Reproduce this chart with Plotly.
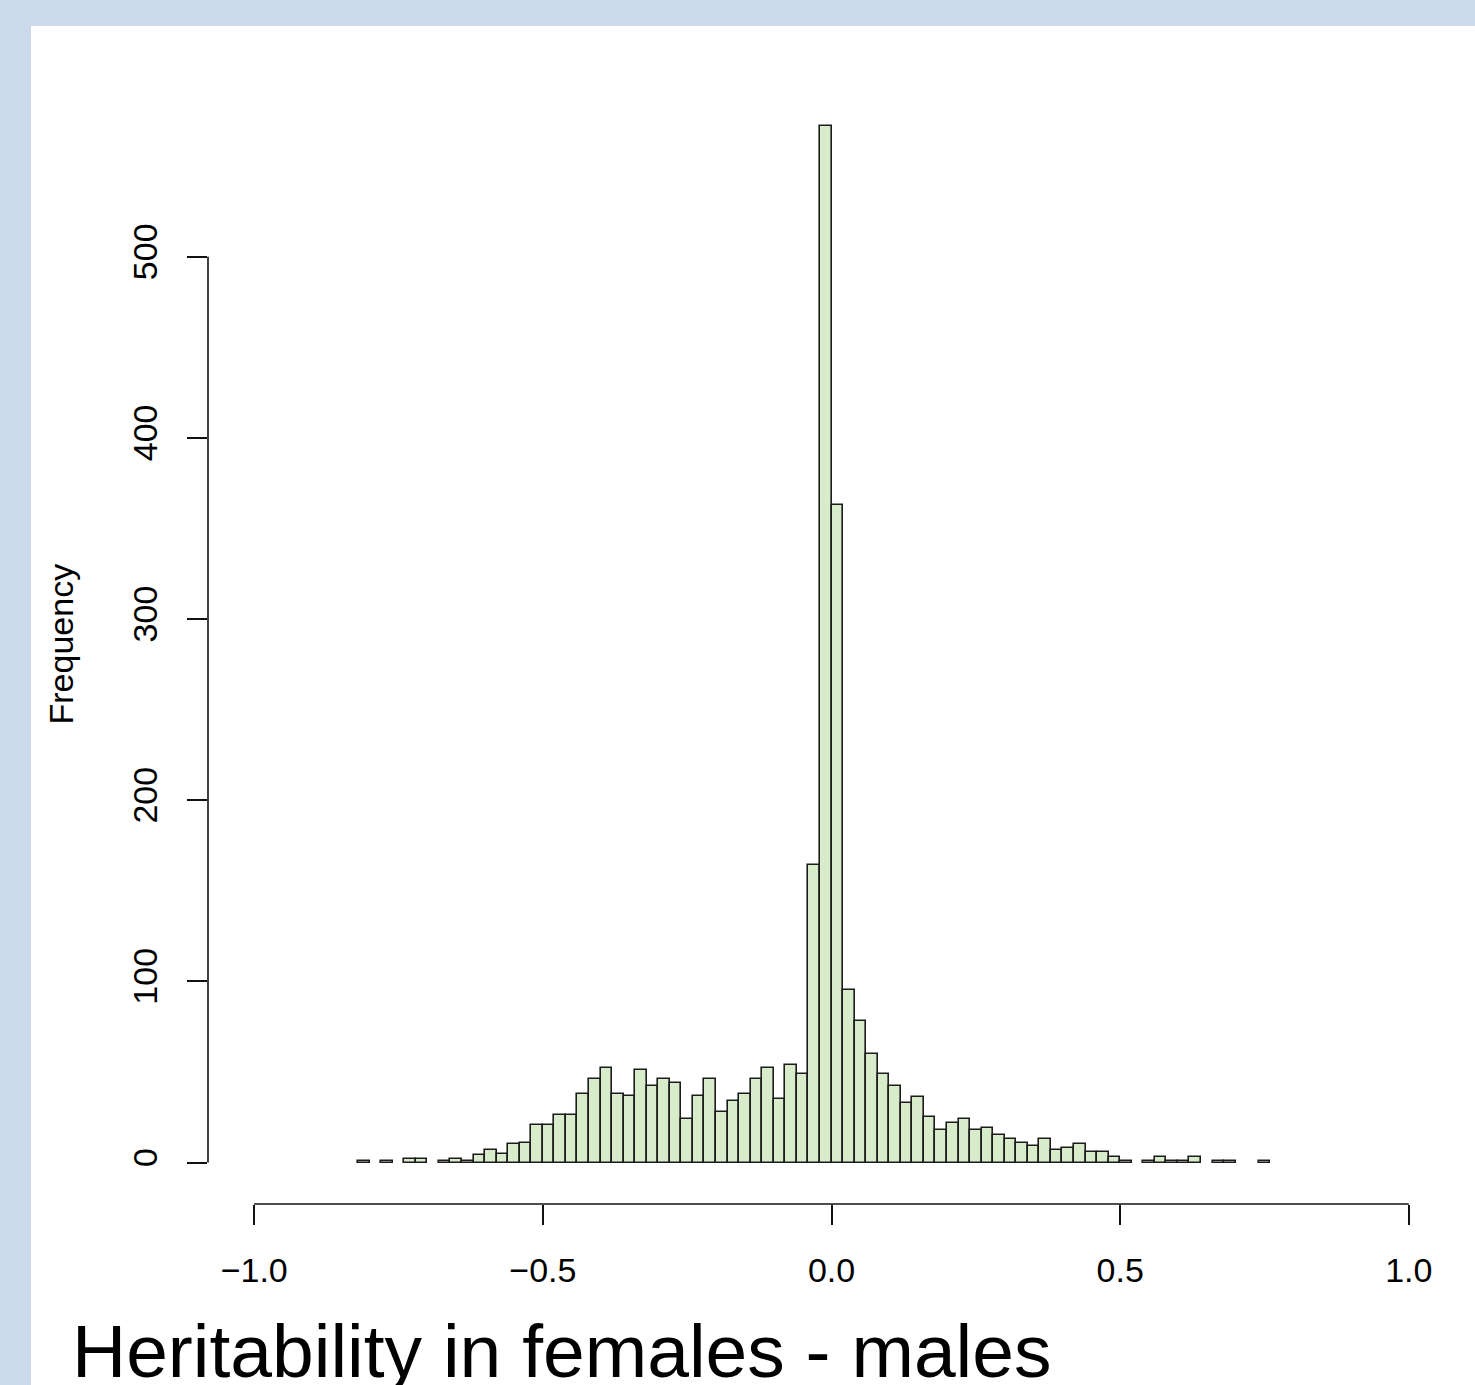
import plotly.graph_objects as go

# ---------------- data ----------------
bin_start = -0.82      # left edge of first bin
bin_width = 0.02
counts = [1, 0, 1, 0, 2, 2, 0, 1, 2, 1,
          4, 7, 5, 10, 11, 21, 21, 26, 26, 38,
          46, 52, 38, 37, 51, 42, 46, 44, 24, 37,
          46, 28, 34, 38, 46, 52, 35, 54, 49, 164,
          572, 363, 95, 78, 60, 49, 42, 33, 36, 25,
          18, 22, 24, 18, 19, 15, 13, 11, 9, 13,
          7, 8, 10, 6, 6, 3, 1, 0, 1, 3,
          1, 1, 3, 0, 1, 1, 0, 0, 1]
x_ticks = [-1.0, -0.5, 0.0, 0.5, 1.0]
x_tick_labels = ["\u22121.0", "\u22120.5", "0.0", "0.5", "1.0"]
y_ticks = [0, 100, 200, 300, 400, 500]
y_tick_labels = ["0", "100", "200", "300", "400", "500"]
x_title = "Heritability in females - males"
y_title = "Frequency"

# ---------------- layout geometry (pixels) ----------------
W, H = 1475, 1385
L, R, T, B = 208, 20, 85, 181
xr = [-1.08, 1.08]
ymax = max(counts)
yr = [-0.04 * ymax, ymax * 1.04]

pw = W - L - R
ph = H - T - B
def px2paperx(px):
    return (px - L) / pw
def px2papery(py):
    return (H - B - py) / ph

centers = [bin_start + bin_width * (i + 0.5) for i in range(len(counts))]
heights = [c if c > 0 else None for c in counts]

FONT = "Liberation Sans, Arial, Helvetica, sans-serif"

fig = go.Figure()
fig.add_trace(go.Bar(
    x=centers, y=heights, width=bin_width,
    marker=dict(color="#d8ebca", line=dict(color="#1c1c1c", width=1.6)),
    hoverinfo="x+y", showlegend=False,
))

shapes = [
    # white panel over the light blue page background
    dict(type="rect", xref="paper", yref="paper",
         x0=px2paperx(31), x1=px2paperx(W + 5), y0=px2papery(H + 5), y1=px2papery(26),
         fillcolor="white", line=dict(width=0), layer="below"),
    # R-style axis lines spanning first..last tick
    dict(type="line", xref="x", yref="paper", x0=x_ticks[0], x1=x_ticks[-1], y0=0, y1=0,
         line=dict(color="#111", width=1.6)),
    dict(type="line", xref="paper", yref="y", x0=0, x1=0, y0=y_ticks[0], y1=y_ticks[-1],
         line=dict(color="#111", width=1.6)),
]

annotations = [
    dict(text=x_title, xref="paper", yref="paper", x=px2paperx(70), y=px2papery(1307),
         xanchor="left", yanchor="top", showarrow=False,
         font=dict(family=FONT, size=75, color="black")),
    dict(text=y_title, xref="paper", yref="paper", x=px2paperx(60), y=0.5,
         xanchor="center", yanchor="middle", textangle=-90, showarrow=False,
         font=dict(family=FONT, size=34, color="black")),
]

fig.update_layout(
    width=W, height=H,
    margin=dict(l=L, r=R, t=T, b=B, pad=0),
    paper_bgcolor="#cbd9eb",
    plot_bgcolor="rgba(0,0,0,0)",
    bargap=0,
    shapes=shapes,
    annotations=annotations,
    font=dict(family=FONT, size=34, color="black"),
    xaxis=dict(range=xr, tickvals=x_ticks, ticktext=x_tick_labels,
               ticks="outside", ticklen=20, tickwidth=1.6, tickcolor="#111",
               showgrid=False, zeroline=False, showline=False,
               ticklabelstandoff=16, tickfont=dict(size=34, family=FONT)),
    yaxis=dict(range=yr, tickvals=y_ticks, ticktext=y_tick_labels,
               ticks="outside", ticklen=20, tickwidth=1.6, tickcolor="#111",
               showgrid=False, zeroline=False, showline=False,
               tickangle=-90, ticklabelstandoff=16, tickfont=dict(size=34, family=FONT)),
)

fig.write_html("out.html", config={"displayModeBar": False},
               post_script="document.body.style.margin='0';document.body.style.padding='0';")
